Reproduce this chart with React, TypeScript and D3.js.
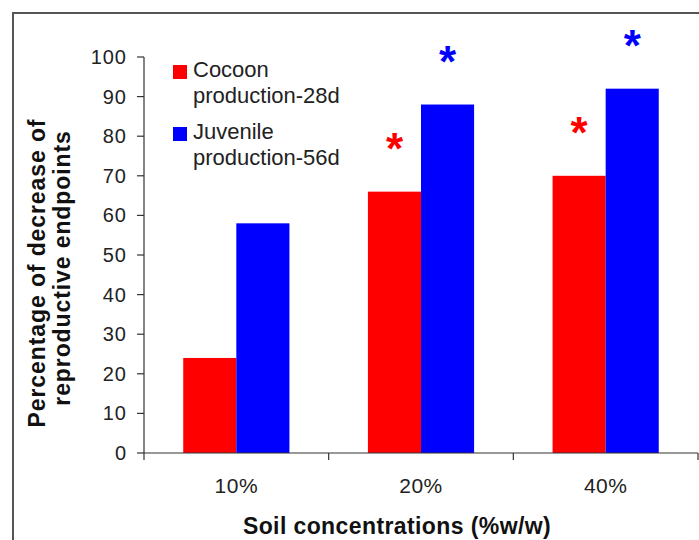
import * as d3 from 'd3';
import { type FC } from 'react';

const categories = ['10%', '20%', '40%'];
const cocoon = [24, 66, 70];
const juvenile = [58, 88, 92];
const cocoonSig = [false, true, true];
const juvenileSig = [false, true, true];
const yTicks = [0, 10, 20, 30, 40, 50, 60, 70, 80, 90, 100];
const seriesNames = ['Cocoon|production-28d', 'Juvenile|production-56d'];

const width = 699;
const height = 540;
const marginLeft = 144;
const marginRight = 1;
const marginTop = 57;
const plotBottom = 453;

const red = '#ff0000';
const blue = '#0000ff';
const font = "'Liberation Sans', Arial, sans-serif";

const App: FC = () => {
  const x0 = d3
    .scaleBand<string>()
    .domain(categories)
    .range([marginLeft, width - marginRight])
    .paddingInner(0.425)
    .paddingOuter(0.2125);

  const x1 = d3
    .scaleBand<string>()
    .domain(['cocoon', 'juvenile'])
    .range([0, x0.bandwidth()]);

  const y = d3.scaleLinear([0, 100], [plotBottom, marginTop]);

  const step = x0.step();
  const bounds = [0, 1, 2, 3].map((i) => marginLeft + i * step);

  const series = [
    { key: 'cocoon', values: cocoon, sig: cocoonSig, color: red },
    { key: 'juvenile', values: juvenile, sig: juvenileSig, color: blue },
  ];

  return (
    <svg
      width={width}
      height={height}
      viewBox={`0, 0, ${width}, ${height}`}
      style={{ position: 'absolute', left: 0, top: 0, background: '#fff' }}
      fontFamily={font}
    >
      {/* outer frame, clipped by the picture edges */}
      <rect x={13} y={13} width={width} height={height} fill='none' stroke='#555' strokeWidth={2} />

      {/* bars */}
      {series.map((s) =>
        s.values.map((v, i) => (
          <rect
            key={`${s.key}-${i}`}
            x={(x0(categories[i]) ?? 0) + (x1(s.key) ?? 0)}
            y={y(v)}
            width={x1.bandwidth()}
            height={y(0) - y(v)}
            fill={s.color}
          />
        )),
      )}

      {/* significance marks */}
      {series.map((s) =>
        s.values.map((v, i) =>
          s.sig[i] ? (
            <text
              key={`sig-${s.key}-${i}`}
              x={(x0(categories[i]) ?? 0) + (x1(s.key) ?? 0) + x1.bandwidth() / 2}
              y={y(v) - 28}
              textAnchor='middle'
              fontSize={44}
              fontWeight='bold'
              fill={s.color}
            >
              *
            </text>
          ) : null,
        ),
      )}

      {/* y axis */}
      <g stroke='#333' strokeWidth={1.2}>
        <line x1={marginLeft} x2={marginLeft} y1={y(100)} y2={y(0)} />
        {yTicks.map((t) => (
          <line key={t} x1={marginLeft - 7} x2={marginLeft} y1={y(t)} y2={y(t)} />
        ))}
      </g>
      <g fontSize={20} fill='#222' textAnchor='end' letterSpacing={1}>
        {yTicks.map((t) => (
          <text key={t} x={marginLeft - 17} y={y(t)} dy='0.35em'>
            {t}
          </text>
        ))}
      </g>

      {/* x axis */}
      <g stroke='#333' strokeWidth={1.2}>
        <line x1={marginLeft} x2={width - marginRight} y1={y(0)} y2={y(0)} />
        {bounds.map((b, i) => (
          <line key={i} x1={b} x2={b} y1={y(0)} y2={y(0) + 7} />
        ))}
      </g>
      <g fontSize={21} fill='#222' textAnchor='middle' letterSpacing={0.5}>
        {categories.map((c) => (
          <text key={c} x={(x0(c) ?? 0) + x0.bandwidth() / 2} y={493}>
            {c}
          </text>
        ))}
      </g>

      {/* axis titles */}
      <text x={397} y={534} textAnchor='middle' fontSize={23} fontWeight='bold' fill='#111' letterSpacing={0.4}>
        Soil concentrations (%w/w)
      </text>
      <g transform='translate(0, 273) rotate(-90)' fontSize={23} fontWeight='bold' fill='#111' textAnchor='middle' letterSpacing={0.9}>
        <text x={0} y={45}>Percentage of decrease of</text>
        <text x={5} y={70}>reproductive endpoints</text>
      </g>

      {/* legend */}
      <g fontSize={22} fill='#222'>
        {seriesNames.map((name, i) => {
          const [l1, l2] = name.split('|');
          const top = 65 + i * 62;
          return (
            <g key={name}>
              <rect x={173} y={top} width={14} height={14} fill={i === 0 ? red : blue} />
              <text x={193} y={top + 12}>{l1}</text>
              <text x={193} y={top + 38}>{l2}</text>
            </g>
          );
        })}
      </g>
    </svg>
  );
};

export default App;
